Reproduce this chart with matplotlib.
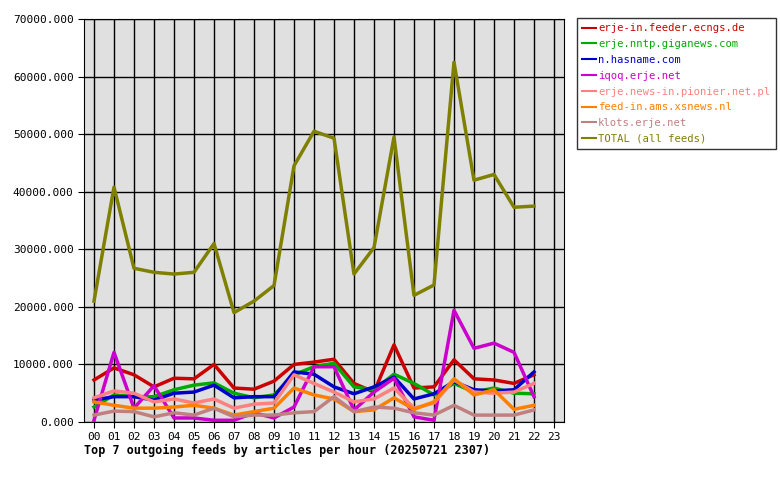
import matplotlib
matplotlib.use("Agg")
import matplotlib.pyplot as plt

hours = ["%02d" % h for h in range(24)]
x = list(range(23))

feeder_ecngs = [7300, 9400, 8200, 6100, 7600, 7500, 10000, 5900, 5700, 7100, 10000, 10400, 10900, 6700, 5200, 13400, 5900, 6100, 10800, 7500, 7300, 6700, 8200]
giganews = [2600, 4700, 4400, 4400, 5600, 6400, 6800, 5000, 4200, 4700, 8200, 9600, 10200, 6100, 5600, 8300, 6700, 4700, 6700, 5200, 5900, 5000, 4900]
hasname = [3800, 4400, 4400, 3800, 5000, 5200, 6400, 4200, 4400, 4400, 8700, 8300, 6100, 4900, 6100, 7800, 4000, 4900, 7000, 5600, 5400, 5600, 8700]
iqoq = [300, 12100, 2400, 6300, 700, 700, 300, 300, 1600, 700, 2600, 9600, 9600, 2100, 5200, 7600, 900, 300, 19400, 12800, 13700, 12100, 4400]
pionier = [4200, 5400, 5000, 3500, 4000, 3300, 4000, 2400, 3100, 3300, 8200, 6700, 5200, 3500, 4000, 5900, 2400, 3300, 7300, 5200, 5000, 5200, 6700]
xsnews = [3500, 2900, 2400, 2400, 2600, 2900, 2400, 1200, 1800, 2400, 5900, 4700, 4000, 1800, 2100, 4200, 2200, 3500, 7500, 4700, 5600, 2200, 2900]
klots = [1200, 1900, 1800, 900, 1600, 1200, 2400, 900, 1200, 1200, 1600, 1800, 4400, 1800, 2600, 2400, 1600, 1200, 2900, 1200, 1200, 1200, 2100]
total = [21000, 40800, 26700, 26000, 25700, 26000, 31000, 19000, 21000, 23700, 44500, 50500, 49300, 25700, 30300, 49500, 22000, 23800, 62500, 42000, 43000, 37300, 37500]

series = [
    ("erje-in.feeder.ecngs.de", feeder_ecngs, "#cc0000"),
    ("erje.nntp.giganews.com", giganews, "#00aa00"),
    ("n.hasname.com", hasname, "#0000cc"),
    ("iqoq.erje.net", iqoq, "#cc00cc"),
    ("erje.news-in.pionier.net.pl", pionier, "#ff8080"),
    ("feed-in.ams.xsnews.nl", xsnews, "#ff8000"),
    ("klots.erje.net", klots, "#c08080"),
    ("TOTAL (all feeds)", total, "#808000"),
]

plt.rcParams['font.family'] = ['DejaVu Sans Mono']
fig = plt.figure(figsize=(7.8, 4.8), dpi=100)
ax = fig.add_axes([84/780, 1-422/480, 480/780, 403/480])
ax.set_facecolor("#e0e0e0")

for name, vals, col in series:
    ax.plot(x, vals, color=col, lw=2.5, label=name)

ax.set_xlim(-0.5, 23.5)
ax.set_ylim(0, 70000)
ax.set_xticks(range(24))
ax.set_xticklabels(hours, fontsize=8)
ax.set_yticks(range(0, 70001, 10000))
ax.set_yticklabels(["%d.000" % v for v in range(0, 70001, 10000)], fontsize=8)
ax.grid(True, color="black", lw=1)
ax.set_axisbelow(True)
for s in ax.spines.values():
    s.set_color("black")
ax.tick_params(length=4, color="black")

ax.text(0, -0.055, "Top 7 outgoing feeds by articles per hour (20250721 2307)",
        transform=ax.transAxes, fontsize=8.5, fontweight="bold", va="top")

leg = fig.legend(loc="upper left", bbox_to_anchor=(577/780, 1-18/480), fontsize=7.6,
                 frameon=True, fancybox=False, edgecolor="black", handlelength=1.3,
                 borderaxespad=0, borderpad=0.5, labelspacing=0.55, handletextpad=0.2)
for line, text, (_, _, col) in zip(leg.get_lines(), leg.get_texts(), series):
    text.set_color(col)
    line.set_linewidth(1.5)

fig.savefig("out.png", dpi=100)
